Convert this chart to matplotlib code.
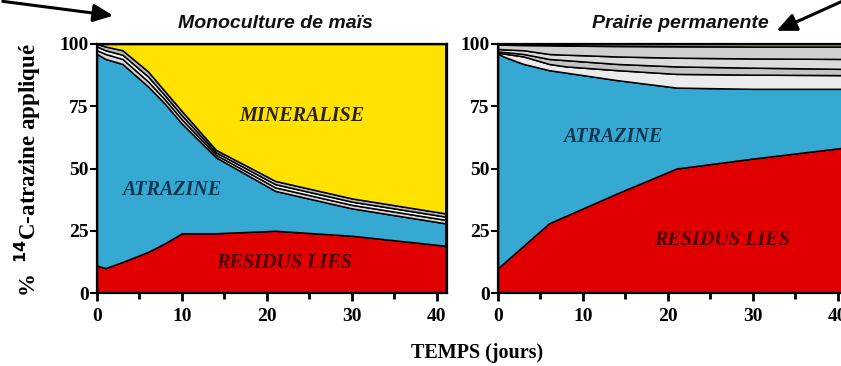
import matplotlib
matplotlib.use("Agg")
import matplotlib.pyplot as plt
import numpy as np

# Sampling days
days = [0, 1, 3, 6, 8, 10, 14, 21, 30, 41]

# Monoculture de maïs (% of applied 14C)
mais_residus = [11, 10, 12.5, 16.5, 20, 24, 24, 25, 23, 19]
mais_atrazine = [85, 84, 79.5, 66.5, 56, 44, 30.5, 16, 11, 9]
mais_metab_a = [1.5, 2.0, 2.0, 2.0, 1.7, 1.7, 1.0, 1.4, 1.4, 1.4]
mais_metab_b = [1.5, 1.5, 1.7, 2.0, 1.6, 1.6, 1.0, 1.3, 1.3, 1.3]
mais_metab_c = [1.0, 1.5, 1.8, 2.0, 1.7, 1.7, 1.0, 1.3, 1.3, 1.3]
mais_mineralise = [0, 1, 2.5, 11, 19, 27, 42.5, 55, 62, 68]

# Prairie permanente (% of applied 14C)
prairie_residus = [10, 13, 19, 28, 31, 34, 40, 50, 54, 58.5]
prairie_atrazine = [86, 81.5, 73, 61.5, 57.5, 53.5, 45.5, 32.5, 28, 23.5]
prairie_metab_a = [0.5, 1.5, 3.0, 2.5, 2.5, 3.0, 4.0, 5.5, 5.7, 5.5]
prairie_metab_b = [0.5, 0.7, 1.0, 2.0, 2.5, 2.5, 2.5, 3.0, 2.8, 2.5]
prairie_metab_c = [1.0, 1.1, 1.5, 2.0, 2.2, 2.5, 3.0, 3.5, 3.7, 4.0]
prairie_metab_d = [1.8, 1.9, 2.1, 3.5, 3.7, 3.8, 4.2, 4.6, 4.8, 5.0]
prairie_mineralise = [0.2, 0.3, 0.4, 0.5, 0.6, 0.7, 0.8, 0.9, 1.0, 1.0]

x_ticks = [0, 10, 20, 30, 40]
y_ticks = [0, 25, 50, 75, 100]

RED = "#e10000"
BLUE = "#35a9d2"
YELLOW = "#ffe200"

SERIF = ["Liberation Serif", "DejaVu Serif"]
SANS = ["Liberation Sans", "DejaVu Sans"]

fig = plt.figure(figsize=(8.41, 3.66), dpi=100)
ax1 = fig.add_axes([97 / 841, 73 / 366, 350 / 841, 249 / 366])
ax2 = fig.add_axes([498 / 841, 73 / 366, 350 / 841, 249 / 366])


def style_axes(ax):
    ax.set_xlim(0, 41.2)
    ax.set_ylim(0, 100)
    ax.set_xticks(x_ticks)
    ax.set_xticks([5, 15, 25, 35], minor=True)
    ax.set_yticks(y_ticks)
    ax.set_xticklabels([str(v) for v in x_ticks], fontfamily=SERIF,
                       fontweight="bold", fontsize=14)
    ax.set_yticklabels([str(v) for v in y_ticks], fontfamily=SERIF,
                       fontweight="bold", fontsize=14)
    ax.tick_params(axis="x", which="major", direction="out", length=6,
                   width=2, pad=5)
    ax.tick_params(axis="x", which="minor", direction="out", length=4,
                   width=2)
    ax.tick_params(axis="y", which="major", direction="out", length=5,
                   width=1.5, pad=1)
    for s in ax.spines.values():
        s.set_linewidth(1.6)
        s.set_color("black")
        s.set_zorder(5)


edge = dict(edgecolor="black", linewidth=1.1)

ax1.stackplot(days, mais_residus, mais_atrazine, mais_metab_a, mais_metab_b,
              mais_metab_c, mais_mineralise,
              colors=[RED, BLUE, "#d8d8d8", "#f2f2f2", "#bdbdbd", YELLOW],
              **edge)
ax2.stackplot(days, prairie_residus, prairie_atrazine, prairie_metab_a,
              prairie_metab_b, prairie_metab_c, prairie_metab_d,
              prairie_mineralise,
              colors=[RED, BLUE, "#ececec", "#c4c4c4", "#dcdcdc", "#d0d0d0",
                      "#c8c060"],
              **edge)

for ax in (ax1, ax2):
    style_axes(ax)

lab = dict(fontfamily=SERIF, fontweight="bold", fontstyle="italic",
           fontsize=14.5, ha="center", va="center")
ax1.text(24.1, 71, "MINERALISE", color="#2a2200", **lab)
ax1.text(8.8, 41.5, "ATRAZINE", color="#0f3550", **lab)
ax1.text(22, 12, "RESIDUS LIES", color="#4a0000", **lab)
ax2.text(13.5, 62.5, "ATRAZINE", color="#0f3550", **lab)
ax2.text(26.4, 21.4, "RESIDUS LIES", color="#4a0000", **lab)

tit = dict(fontfamily=SANS, fontweight="bold", fontstyle="italic",
           fontsize=14, ha="center", va="center", color="#111111")
fig.text(275 / 841, 1 - 23 / 366, "Monoculture de maïs", **tit)
fig.text(680 / 841, 1 - 23 / 366, "Prairie permanente", **tit)

fig.text(28 / 841, 1 - 170 / 366, r"%  $^{\mathbf{14}}$C-atrazine appliqué",
         rotation=90, ha="center", va="center", fontfamily=SERIF,
         fontweight="bold", fontsize=16.5)
fig.text(477 / 841, 1 - 353 / 366, "TEMPS (jours)", ha="center",
         va="center", fontfamily=SERIF, fontweight="bold", fontsize=14.5)

arrow = dict(arrowstyle="-|>,head_length=1.0,head_width=0.45", color="black",
             lw=2.2)
fig.add_artist(matplotlib.patches.FancyArrowPatch(
    (0 / 841, 1 - 1 / 366), (116 / 841, 1 - 16 / 366),
    transform=fig.transFigure, mutation_scale=12, **arrow))
fig.add_artist(matplotlib.patches.FancyArrowPatch(
    (845 / 841, 1 - 0 / 366), (774 / 841, 1 - 32 / 366),
    transform=fig.transFigure, mutation_scale=12, **arrow))

fig.savefig("out.png", dpi=100)
